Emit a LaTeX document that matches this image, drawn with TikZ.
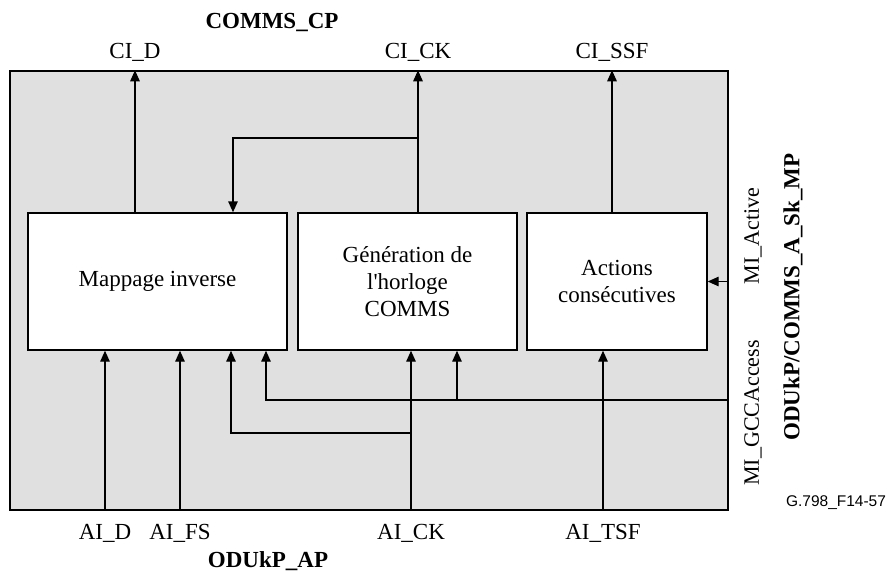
\documentclass[tikz,border=0pt]{standalone}
\usepackage{fontspec}
\setmainfont{Liberation Serif}
\newfontfamily\figfont{Liberation Sans}
\usepackage{tikz}
\usetikzlibrary{arrows.meta, positioning}
\definecolor{panelgray}{HTML}{E0E0E0}

\begin{document}
\begin{tikzpicture}[
        x=1pt, y=-1pt,
        font=\fontsize{23}{27}\selectfont,
        frame/.style={draw, line width=1.4pt, fill=panelgray},
        block/.style={draw, line width=1.4pt, fill=white, align=center,
                      minimum height=137pt, inner sep=0pt},
        lab/.style={inner sep=0pt},
        title/.style={lab, font=\fontsize{23}{27}\selectfont\bfseries},
        arr/.style={line width=1.4pt, -{Triangle[length=11pt, width=9.5pt]}},
    ]
        \useasboundingbox (0,0) rectangle (889,578);

        % Cadre de la fonction
        \node[frame, minimum width=718pt, minimum height=439pt, inner sep=0pt] (frame) at (369,290.5) {};

        \node[block, minimum width=259pt] (map) at (157.5,281.5) {Mappage inverse};
        \node[block, minimum width=219pt] (gen) at (407.5,281.5) {Génération de\\l\textquotesingle horloge\\COMMS};
        \node[block, minimum width=180pt] (act) at (617,281.5) {Actions\\consécutives};

        % Points de connexion COMMS_CP
        \node[title] (cp)   at (272,22) {COMMS\_CP};
        \node[lab]   (cid)  at (135,52) {CI\_D};
        \node[lab]   (cick) at (418,52) {CI\_CK};
        \node[lab]   (cissf) at (612,52) {CI\_SSF};

        \draw[arr] (map.north -| cid)   -- (frame.north -| cid);
        \draw[arr] (gen.north -| cick)  -- (frame.north -| cick);
        \draw[arr] (act.north -| cissf) -- (frame.north -| cissf);

        % Retour de l'horloge
        \coordinate (fb)  at (418,138);
        \coordinate (fbx) at (233,138);
        \draw[arr] (fb) -- (fbx) -- (fbx |- map.north);

        % Points de connexion ODUkP_AP
        \node[lab]   (aid)  at (105,533) {AI\_D};
        \node[lab]   (aifs) at (180,533) {AI\_FS};
        \node[lab]   (aick) at (411,533) {AI\_CK};
        \node[lab]   (aitsf) at (603,533) {AI\_TSF};
        \node[title] (ap)   at (268,561) {ODUkP\_AP};

        \draw[arr] (frame.south -| aid)   -- (map.south -| aid);
        \draw[arr] (frame.south -| aifs)  -- (map.south -| aifs);
        \draw[arr] (frame.south -| aick)  -- (gen.south -| aick);
        \draw[arr] (frame.south -| aitsf) -- (act.south -| aitsf);

        \coordinate (ckj) at (411,433);
        \coordinate (ckm) at (231,433);
        \draw[arr] (ckj) -- (ckm) -- (ckm |- map.south);

        % Points de connexion MP
        \node[lab, rotate=90, font=\fontsize{22}{26}\selectfont] (mia)   at (753,236) {MI\_Active};
        \node[lab, rotate=90, font=\fontsize{22}{26}\selectfont] (migcc) at (753,413) {MI\_GCCAccess};
        \node[title, rotate=90] (mp)  at (793,297) {ODUkP/COMMS\_A\_Sk\_MP};

        \draw[arr] (frame.east |- act) -- (act.east);

        \coordinate (gcc)  at (728,400);
        \coordinate (gccm) at (266,400);
        \coordinate (gccg) at (457,400);
        \draw[arr] (gcc) -- (gccm) -- (gccm |- map.south);
        \draw[arr] (gccg) -- (gccg |- gen.south);

        \node[lab, font=\figfont\fontsize{15.5}{18}\selectfont] (ref) at (836,503) {G.798\_F14-57};
    \end{tikzpicture}
\end{document}
